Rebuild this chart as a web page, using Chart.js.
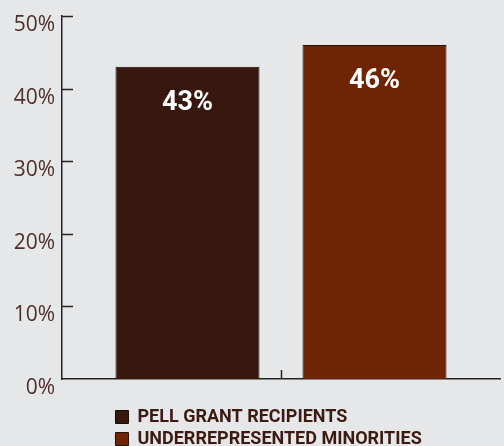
<!DOCTYPE html>
<html>
<head>
<meta charset="utf-8">
<script src="https://cdn.jsdelivr.net/npm/chart.js@4/dist/chart.umd.min.js"></script>
<style>
  html, body { margin: 0; padding: 0; background: #e6e7e9; }
  #wrap { position: relative; width: 504px; height: 446px; }
</style>
</head>
<body>
<div id="wrap"><canvas id="gradChart"></canvas></div>
<script>
// Data
const categories = [''];
const seriesNames = ['PELL GRANT RECIPIENTS', 'UNDERREPRESENTED MINORITIES'];
const pellValues = [43];
const minorityValues = [46];
const seriesColors = ['#38170e', '#6f2406'];
const yTicks = [0, 10, 20, 30, 40, 50];

const inkColor = '#262220';

// Short tick marks drawn inward from the axes, plus value labels inside the bars
const axisMarks = {
  id: 'axisMarks',
  afterDatasetsDraw(chart) {
    const ctx = chart.ctx;
    const x = chart.scales.x, y = chart.scales.y;
    const area = chart.chartArea;
    ctx.save();
    ctx.strokeStyle = inkColor;
    ctx.lineWidth = 1.5;
    yTicks.forEach(v => {
      if (v === 0) return;
      const py = Math.round(y.getPixelForValue(v)) + 0.5;
      ctx.beginPath();
      ctx.moveTo(area.left, py);
      ctx.lineTo(area.left + 11, py);
      ctx.stroke();
    });
    const cx = Math.round(x.getPixelForValue(0)) + 0.5;
    ctx.beginPath();
    ctx.moveTo(cx, area.bottom);
    ctx.lineTo(cx, area.bottom - 9);
    ctx.stroke();

    // value labels
    ctx.fillStyle = '#ffffff';
    ctx.font = 'bold 27px Roboto';
    ctx.textAlign = 'center';
    ctx.textBaseline = 'middle';
    chart.data.datasets.forEach((ds, i) => {
      chart.getDatasetMeta(i).data.forEach((bar, j) => {
        ctx.fillText(ds.data[j] + '%', bar.x, bar.y + 36);
      });
    });
    ctx.restore();
  }
};

// Legend rows start at the left edge of the first bar
const legendShift = {
  id: 'legendShift',
  beforeDraw(chart) {
    const bar = chart.getDatasetMeta(0).data[0];
    if (!bar) return;
    const pad = chart.options.plugins.legend.labels.padding;
    chart.legend.left = bar.x - bar.width / 2 - pad;
  }
};

const ctx = document.getElementById('gradChart').getContext('2d');
new Chart(ctx, {
  type: 'bar',
  data: {
    labels: categories,
    datasets: [{
      label: seriesNames[0],
      data: pellValues,
      backgroundColor: seriesColors[0],
      borderColor: '#1e0c06',
      borderWidth: 1
    }, {
      label: seriesNames[1],
      data: minorityValues,
      backgroundColor: seriesColors[1],
      borderColor: '#2a0f04',
      borderWidth: 1
    }]
  },
  options: {
    responsive: true,
    maintainAspectRatio: false,
    animation: false,
    layout: { padding: { top: 16, right: 4, left: 0, bottom: -12 } },
    datasets: {
      bar: { categoryPercentage: 0.854, barPercentage: 0.77 }
    },
    plugins: {
      tooltip: { enabled: false },
      legend: {
        position: 'bottom',
        align: 'start',
        labels: {
          boxWidth: 13,
          boxHeight: 13,
          padding: 4,
          color: '#3b1a12',
          font: { family: 'Roboto', size: 18, weight: 'bold' }
        }
      }
    },
    scales: {
      x: {
        afterFit(scale) { scale.height = 25; },
        grid: { display: false, drawTicks: false },
        border: { color: inkColor, width: 1.5 },
        ticks: { display: false }
      },
      y: {
        min: 0,
        max: 50,
        afterFit(scale) {
          scale.width = 62;
          scale.paddingTop = 0;
          scale.paddingBottom = 0;
        },
        afterBuildTicks(scale) { scale.ticks = yTicks.map(v => ({ value: v })); },
        grid: { display: false, drawTicks: false },
        border: { color: inkColor, width: 1.5 },
        ticks: {
          padding: 7,
          labelOffset: 9,
          color: '#4d2f2b',
          font: { family: 'Open Sans', size: 21 },
          callback: v => v + '%'
        }
      }
    }
  },
  plugins: [axisMarks, legendShift]
});
</script>
</body>
</html>
